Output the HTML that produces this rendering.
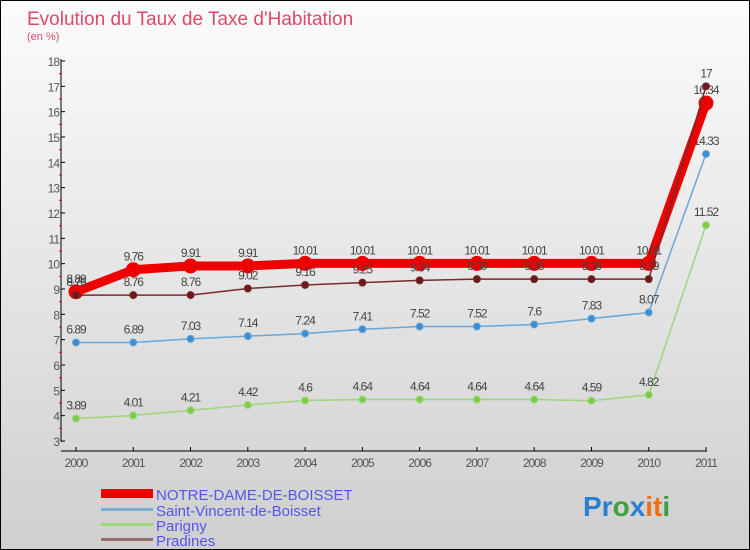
<!DOCTYPE html>
<html><head><meta charset="utf-8"><style>
body{margin:0}
#c{width:750px;height:550px;position:relative;overflow:hidden;box-sizing:border-box;border:1px solid #000;background:linear-gradient(#fcfcfc,#cfcfcf);font-family:"Liberation Sans",sans-serif}
</style></head><body>
<div id="c">
<svg id="s" width="750" height="550" style="position:absolute;left:0;top:0">
<text x="26" y="24" font-size="19" fill="#e04868">Evolution du Taux de Taxe d'Habitation</text>
<text x="26" y="39" font-size="11" fill="#e04868">(en %)</text>
<g id="ax"></g><g id="ln"></g>
<g>
<rect x="100" y="488" width="52" height="9" fill="#e00"/>
<text x="155" y="499" font-size="15" fill="#5555ee">NOTRE-DAME-DE-BOISSET</text>
<rect x="100" y="507" width="52" height="3" fill="#7aaed0"/>
<text x="155" y="515" font-size="15" fill="#5555ee">Saint-Vincent-de-Boisset</text>
<rect x="100" y="522" width="52" height="3" fill="#9ed67a"/>
<text x="155" y="530" font-size="15" fill="#5555ee">Parigny</text>
<rect x="100" y="537" width="52" height="3" fill="#9a6a6a"/>
<text x="155" y="545" font-size="15" fill="#5555ee">Pradines</text>
</g>
<text x="582" y="515" font-size="28" font-weight="bold"><tspan fill="#2a7fd0">Pr</tspan><tspan fill="#3aa040">o</tspan><tspan fill="#2a7fd0">x</tspan><tspan fill="#f07010">it</tspan><tspan fill="#3aa040">i</tspan></text>
</svg>
</div>
<script>
const years=["2000","2001","2002","2003","2004","2005","2006","2007","2008","2009","2010","2011"];
const notreDame=[8.89,9.76,9.91,9.91,10.01,10.01,10.01,10.01,10.01,10.01,10.01,16.34];
const saintVincent=[6.89,6.89,7.03,7.14,7.24,7.41,7.52,7.52,7.6,7.83,8.07,14.33];
const parigny=[3.89,4.01,4.21,4.42,4.6,4.64,4.64,4.64,4.64,4.59,4.82,11.52];
const pradines=[8.76,8.76,8.76,9.02,9.16,9.25,9.34,9.39,9.39,9.39,9.39,17];
const yTicks=[3,4,5,6,7,8,9,10,11,12,13,14,15,16,17,18];
const NS="http://www.w3.org/2000/svg";
const X=i=>75+i*(630/11), Y=v=>440-(v-3)*(380/15);
function mk(t,a,p){const e=document.createElementNS(NS,t);for(const k in a)e.setAttribute(k,a[k]);p.appendChild(e);return e;}
const ax=document.getElementById('ax'), ln=document.getElementById('ln');
let e=mk('line',{x1:60,y1:58,x2:60,y2:441,stroke:'#000'},ax);


e=mk('line',{x1:60,y1:450,x2:706,y2:450,stroke:'#000'},ax);


yTicks.forEach(v=>{const y=Y(v);
 mk('line',{x1:60,y1:y,x2:64,y2:y,stroke:'#000'},ax);
 if(v<18) mk('line',{x1:58,y1:Y(v+0.5),x2:61,y2:Y(v+0.5),stroke:'#f00'},ax);
 const t=mk('text',{x:58,y:y+5,'font-size':12,fill:'#555','text-anchor':'end','letter-spacing':'-1'},ax);t.textContent=v;
 
 
});
years.forEach((yr,i)=>{const x=X(i);
 mk('line',{x1:x,y1:446,x2:x,y2:450,stroke:'#000'},ax);
 const t=mk('text',{x:x,y:466,'font-size':12,fill:'#555','text-anchor':'middle','letter-spacing':'-1'},ax);t.textContent=yr;
 
 
});
function series(d,col,dot,w,r,name){
 const p=mk('polyline',{points:d.map((v,i)=>X(i)+','+Y(v)).join(' '),fill:'none',stroke:col,'stroke-width':w},ln);
 
 
 d.forEach((v,i)=>{
  const c=mk('circle',{cx:X(i),cy:Y(v),r:r,fill:dot,stroke:col,'stroke-width':1},ln);
  
  
  const t=mk('text',{x:X(i),y:Y(v)-9,'font-size':12,fill:'#444','text-anchor':'middle','letter-spacing':'-1'},ln);
  t.textContent=v;
  
  
 });
}
series(parigny,'#9ed67a','#7ccc44',1.5,3.5,'parigny');
series(saintVincent,'#6aa6d6','#3c8ed0',1.5,3.5,'saint-vincent');
series(notreDame,'#ee0000','#ee0000',9,7,'notre-dame');
series(pradines,'#7a2a2a','#6a1a1a',1.5,3.5,'pradines');
</script>
</body></html>
